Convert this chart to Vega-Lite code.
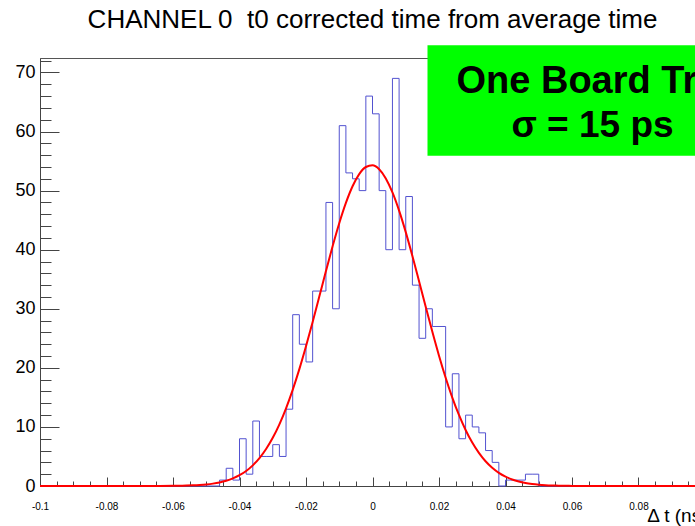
{
  "$schema": "https://vega.github.io/schema/vega-lite/v6.json",
  "width": 665,
  "height": 428,
  "autosize": {"type": "none"},
  "padding": {"left": 40, "top": 58, "right": -10, "bottom": 40},
  "background": "white",
  "config": {"view": {"stroke": "#555", "strokeWidth": 1}, "font": "Liberation Sans"},
  "title": {"text": "CHANNEL 0 \u00a0t0 corrected time from average time", "font": "Liberation Sans", "fontSize": 26, "fontWeight": "normal", "color": "#000", "anchor": "middle", "frame": "group", "baseline": "alphabetic", "offset": 27, "dy": 36},
  "datasets": {
    "hist": [
      {"t": -0.1, "count": 0}, {"t": -0.046, "count": 1}, {"t": -0.044, "count": 3}, {"t": -0.042, "count": 1},
      {"t": -0.040, "count": 8}, {"t": -0.038, "count": 2}, {"t": -0.036, "count": 11}, {"t": -0.034, "count": 5},
      {"t": -0.032, "count": 5}, {"t": -0.030, "count": 7}, {"t": -0.028, "count": 5}, {"t": -0.026, "count": 13},
      {"t": -0.024, "count": 29}, {"t": -0.022, "count": 24}, {"t": -0.020, "count": 21}, {"t": -0.018, "count": 33},
      {"t": -0.016, "count": 33}, {"t": -0.014, "count": 48}, {"t": -0.012, "count": 30}, {"t": -0.010, "count": 61},
      {"t": -0.008, "count": 53}, {"t": -0.006, "count": 52}, {"t": -0.004, "count": 50}, {"t": -0.002, "count": 66},
      {"t": 0.0, "count": 63}, {"t": 0.002, "count": 50}, {"t": 0.004, "count": 40}, {"t": 0.006, "count": 69},
      {"t": 0.008, "count": 40}, {"t": 0.010, "count": 49}, {"t": 0.012, "count": 34}, {"t": 0.014, "count": 25},
      {"t": 0.016, "count": 30}, {"t": 0.018, "count": 27}, {"t": 0.020, "count": 27}, {"t": 0.022, "count": 10},
      {"t": 0.024, "count": 19}, {"t": 0.026, "count": 8}, {"t": 0.028, "count": 12}, {"t": 0.030, "count": 10},
      {"t": 0.032, "count": 9}, {"t": 0.034, "count": 6}, {"t": 0.036, "count": 4}, {"t": 0.038, "count": 0},
      {"t": 0.040, "count": 1}, {"t": 0.042, "count": 1}, {"t": 0.044, "count": 1}, {"t": 0.046, "count": 2},
      {"t": 0.048, "count": 2}, {"t": 0.050, "count": 0}, {"t": 0.1, "count": 0}
    ],
    "fit": [
      {"t": -0.1, "f": 0}, {"t": -0.07, "f": 0.002}, {"t": -0.06, "f": 0.025}, {"t": -0.058, "f": 0.041}, {"t": -0.056, "f": 0.067},
      {"t": -0.054, "f": 0.108}, {"t": -0.052, "f": 0.171}, {"t": -0.05, "f": 0.265}, {"t": -0.048, "f": 0.403},
      {"t": -0.046, "f": 0.603}, {"t": -0.044, "f": 0.887}, {"t": -0.042, "f": 1.284}, {"t": -0.04, "f": 1.824},
      {"t": -0.038, "f": 2.546}, {"t": -0.036, "f": 3.495}, {"t": -0.034, "f": 4.719}, {"t": -0.032, "f": 6.257},
      {"t": -0.03, "f": 8.152}, {"t": -0.028, "f": 10.44}, {"t": -0.026, "f": 13.15}, {"t": -0.024, "f": 16.27},
      {"t": -0.022, "f": 19.78}, {"t": -0.02, "f": 23.64}, {"t": -0.018, "f": 27.77}, {"t": -0.016, "f": 32.06},
      {"t": -0.014, "f": 36.39}, {"t": -0.012, "f": 40.58}, {"t": -0.01, "f": 44.48}, {"t": -0.008, "f": 47.92},
      {"t": -0.006, "f": 50.74}, {"t": -0.004, "f": 52.8}, {"t": -0.002, "f": 54.0}, {"t": 0.0, "f": 54.28},
      {"t": 0.002, "f": 53.63}, {"t": 0.004, "f": 52.07}, {"t": 0.006, "f": 49.69}, {"t": 0.008, "f": 46.61},
      {"t": 0.01, "f": 42.97}, {"t": 0.012, "f": 38.93}, {"t": 0.014, "f": 34.66}, {"t": 0.016, "f": 30.34},
      {"t": 0.018, "f": 26.1}, {"t": 0.02, "f": 22.06}, {"t": 0.022, "f": 18.33}, {"t": 0.024, "f": 14.97},
      {"t": 0.026, "f": 12.02}, {"t": 0.028, "f": 9.48}, {"t": 0.03, "f": 7.35}, {"t": 0.032, "f": 5.6},
      {"t": 0.034, "f": 4.19}, {"t": 0.036, "f": 3.09}, {"t": 0.038, "f": 2.23}, {"t": 0.04, "f": 1.59},
      {"t": 0.042, "f": 1.11}, {"t": 0.044, "f": 0.76}, {"t": 0.046, "f": 0.51}, {"t": 0.048, "f": 0.34},
      {"t": 0.05, "f": 0.22}, {"t": 0.052, "f": 0.14}, {"t": 0.054, "f": 0.09}, {"t": 0.056, "f": 0.06},
      {"t": 0.058, "f": 0.03}, {"t": 0.06, "f": 0.02}, {"t": 0.07, "f": 0.002}, {"t": 0.1, "f": 0}
    ]
  },
  "layer": [
    {
      "data": {"name": "hist"},
      "mark": {"type": "line", "interpolate": "step-after", "stroke": "#5252d0", "strokeWidth": 1},
      "encoding": {
        "x": {
          "field": "t", "type": "quantitative",
          "scale": {"domain": [-0.1, 0.1], "nice": false, "zero": false},
          "axis": {
            "values": [-0.1,-0.095,-0.09,-0.085,-0.08,-0.075,-0.07,-0.065,-0.06,-0.055,-0.05,-0.045,-0.04,-0.035,-0.03,-0.025,-0.02,-0.015,-0.01,-0.005,0,0.005,0.01,0.015,0.02,0.025,0.03,0.035,0.04,0.045,0.05,0.055,0.06,0.065,0.07,0.075,0.08,0.085,0.09,0.095],
            "tickCount": 200,
            "labelExpr": "abs(datum.value*50 - round(datum.value*50)) < 0.01 ? replace(format(datum.value, '~g'), '\u2212', '-') : ''",
            "tickSize": {"condition": {"test": "abs(datum.value*50 - round(datum.value*50)) < 0.01", "value": -9}, "value": -5},
            "tickColor": "#444", "domainColor": "#444", "grid": false,
            "labelFont": "Liberation Sans", "labelFontSize": 10, "labelColor": "#000", "labelPadding": 24,
            "labelFlush": false, "labelOverlap": false, "labelBound": false,
            "title": "\u0394 t (ns)", "titleFont": "Liberation Sans", "titleFontSize": 19, "titleFontWeight": "normal", "titleColor": "#000",
            "titleAnchor": "end", "titleAlign": "right", "titleBaseline": "alphabetic", "titleX": 667, "titleY": 35
          }
        },
        "y": {
          "field": "count", "type": "quantitative",
          "scale": {"domain": [0, 72.45], "nice": false},
          "axis": {
            "values": [0,2,4,6,8,10,12,14,16,18,20,22,24,26,28,30,32,34,36,38,40,42,44,46,48,50,52,54,56,58,60,62,64,66,68,70,72],
            "tickCount": 200,
            "labelExpr": "datum.value % 10 == 0 ? format(datum.value, 'd') : ''",
            "tickSize": {"condition": {"test": "datum.value % 10 == 0", "value": -19}, "value": -11},
            "tickColor": "#444", "domainColor": "#444", "grid": false,
            "labelFont": "Liberation Sans", "labelFontSize": 18, "labelColor": "#000", "labelPadding": 24,
            "labelFlush": false, "labelOverlap": false, "labelBound": false,
            "title": null
          }
        }
      }
    },
    {
      "data": {"name": "fit"},
      "mark": {"type": "line", "interpolate": "monotone", "stroke": "#ff0000", "strokeWidth": 2},
      "encoding": {
        "x": {"field": "t", "type": "quantitative"},
        "y": {"field": "f", "type": "quantitative"}
      }
    },
    {
      "data": {"values": [{"box": "label"}]},
      "mark": {"type": "rect", "color": "#00ff00"},
      "encoding": {
        "x": {"datum": 0.01654, "type": "quantitative"},
        "x2": {"datum": 0.14},
        "y": {"datum": 74.6, "type": "quantitative"},
        "y2": {"datum": 55.9}
      }
    },
    {
      "data": {"values": [{"label": "One Board Tree"}]},
      "mark": {"type": "text", "font": "Liberation Sans", "fontWeight": "bold", "fontSize": 38, "align": "left", "baseline": "alphabetic", "color": "#000"},
      "encoding": {
        "x": {"datum": 0.02526, "type": "quantitative"},
        "y": {"datum": 66.5, "type": "quantitative"},
        "text": {"field": "label"}
      }
    },
    {
      "data": {"values": [{"label": "\u03c3 = 15 ps"}]},
      "mark": {"type": "text", "font": "Liberation Sans", "fontWeight": "bold", "fontSize": 37, "align": "center", "baseline": "alphabetic", "color": "#000"},
      "encoding": {
        "x": {"datum": 0.06617, "type": "quantitative"},
        "y": {"datum": 59.0, "type": "quantitative"},
        "text": {"field": "label"}
      }
    }
  ]
}
